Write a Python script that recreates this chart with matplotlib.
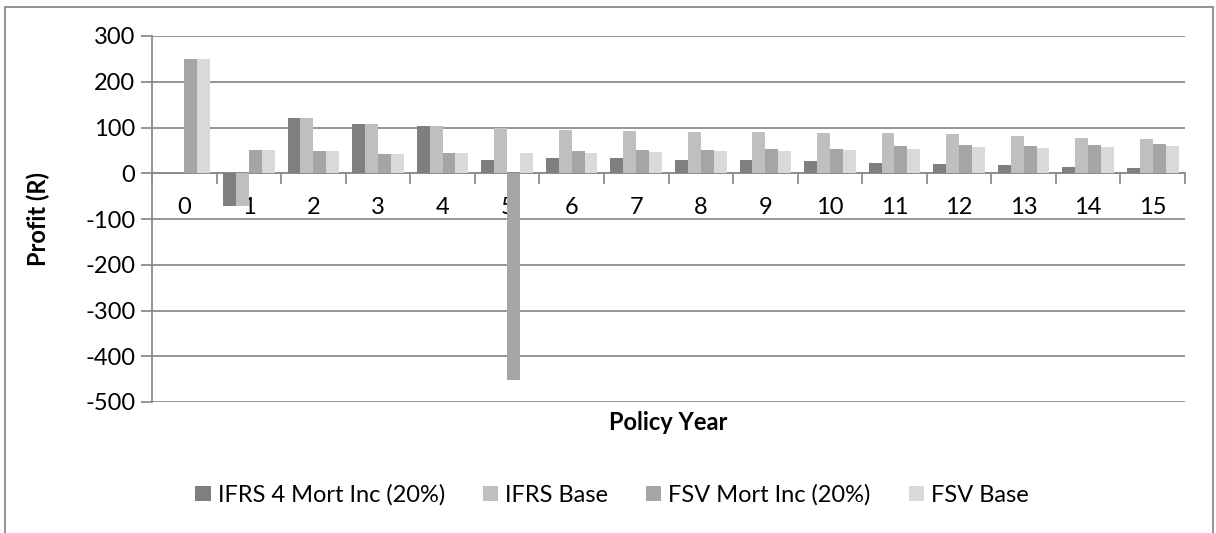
import numpy as np
import matplotlib.pyplot as plt
from matplotlib.patches import Rectangle

plt.rcParams['font.family'] = ['Lato', 'DejaVu Sans']
plt.rcParams['axes.unicode_minus'] = False

years = list(range(16))
series = ['IFRS 4 Mort Inc (20%)', 'IFRS Base', 'FSV Mort Inc (20%)', 'FSV Base']
ifrs4_mort = [0, -71, 120, 108, 103, 29, 34, 33, 30, 28, 26, 23, 20, 17, 14, 11]
ifrs_base = [0, -71, 120, 108, 103, 98, 94, 92, 90, 90, 89, 87, 85, 81, 78, 75]
fsv_mort = [250, 51, 49, 43, 44, -451, 49, 51, 51, 53, 54, 59, 61, 60, 62, 64]
fsv_base = [250, 51, 49, 43, 44, 44, 45, 46, 48, 49, 51, 54, 57, 56, 57, 59]
yticks = [300, 200, 100, 0, -100, -200, -300, -400, -500]

colors = ['#7f7f7f', '#bfbfbf', '#a5a5a5', '#d9d9d9']
grid_col = '#8c8c8c'
fs = 17

fig = plt.figure(figsize=(12.16, 5.33), dpi=100)
ax = fig.add_axes([152/1216, 1-402/533, (1185-152)/1216, (402-36)/533])

x = np.arange(len(years))
w = 0.2
handles = []
for k, vals in enumerate([ifrs4_mort, ifrs_base, fsv_mort, fsv_base]):
    b = ax.bar(x + (k - 1.5)*w, vals, w, color=colors[k], label=series[k], zorder=3)
    handles.append(b)

ax.set_xlim(-0.5, 15.5)
ax.set_ylim(-500, 300)
ax.set_yticks(yticks)
ax.yaxis.grid(True, color=grid_col, lw=1.3, zorder=0)
ax.tick_params(axis='y', length=8, width=1.3, color=grid_col, labelsize=fs, pad=4)

ax.set_xticks(x)
ax.set_xticklabels([str(v) for v in years])
ax.set_xticks(np.arange(-0.5, 16, 1), minor=True)
ax.tick_params(axis='x', which='major', length=0, labelsize=fs, pad=17)
ax.tick_params(axis='x', which='minor', length=8, width=1.3, color=grid_col, direction='out')

for s in ['top', 'right']:
    ax.spines[s].set_visible(False)
ax.spines['bottom'].set_position(('data', 0))
ax.spines['bottom'].set_color(grid_col)
ax.spines['bottom'].set_linewidth(1.3)
ax.spines['left'].set_color(grid_col)
ax.spines['left'].set_linewidth(1.3)

ax.set_ylabel('Profit (R)', fontsize=fs, fontweight='bold')
ax.yaxis.set_label_coords(-0.099, 0.5)
ax.set_xlabel('Policy Year', fontsize=fs, fontweight='bold', va='center')
ax.xaxis.set_label_coords(0.5, (402-423)/366)

fig.legend(handles=handles, loc='center', bbox_to_anchor=(612/1216, 1-495/533),
           ncol=4, frameon=False, fontsize=fs, handlelength=0.65, handleheight=0.65,
           handletextpad=0.3, columnspacing=1.6)

fig.add_artist(Rectangle((5/1216, -0.1), (1213-5)/1216, 1.1-7/533,
                         transform=fig.transFigure, fill=False,
                         edgecolor='#8a8a8a', lw=1.3))

fig.savefig('out.png', dpi=100)
